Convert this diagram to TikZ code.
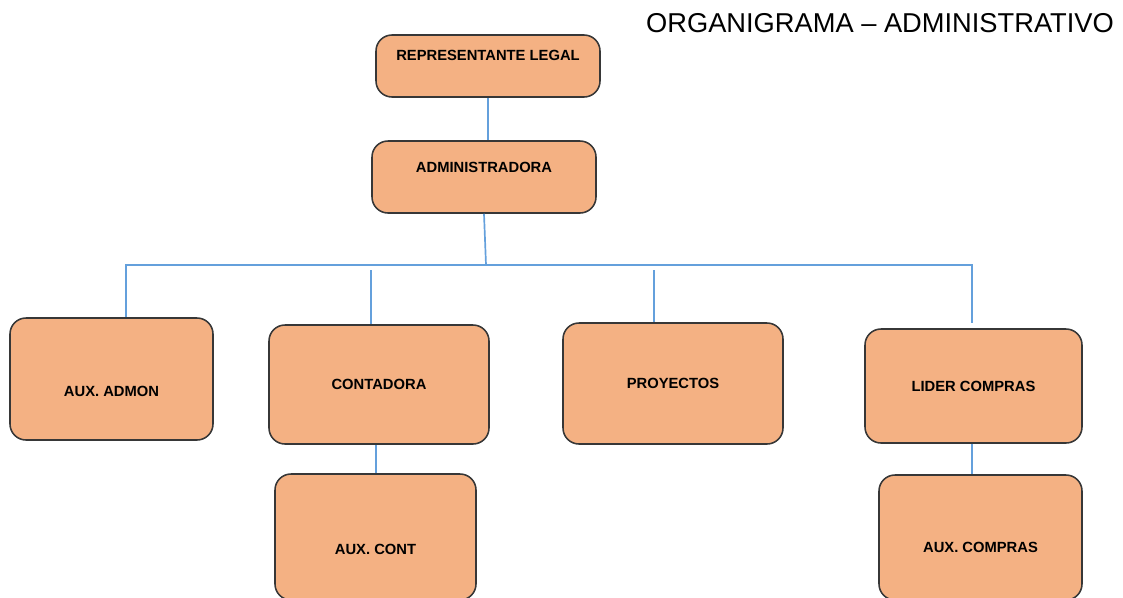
\documentclass[tikz,border=0pt]{standalone}
\usepackage{fontspec}
\setmainfont{Liberation Sans}
\usetikzlibrary{calc}

\definecolor{boxfill}{RGB}{244,177,131}
\definecolor{boxline}{RGB}{55,55,55}
\definecolor{linkblue}{RGB}{100,160,220}

\begin{document}
\begin{tikzpicture}[
    box/.style={rectangle, draw=boxline, line width=1.1pt, fill=boxfill, rounded corners=0.4cm, text centered, font=\fontsize{10.5}{12}\selectfont\bfseries, text height=7.5pt, text depth=0pt},
    line/.style={draw=linkblue, line width=1.2pt}
]

\useasboundingbox (0,0) rectangle (28.075,-14.95);

\node [font=\fontsize{19.4}{22}\selectfont] (title) at (22.0,-0.58) {ORGANIGRAMA -- ADMINISTRATIVO};

\node [box, minimum width=5.6cm, minimum height=1.55cm, text depth=15.6pt] (legal) at (12.2,-1.65) {REPRESENTANTE LEGAL};
\node [box, minimum width=5.6cm, minimum height=1.8cm, text depth=14.2pt] (admin) at (12.1,-4.425) {ADMINISTRADORA};

\node [box, minimum width=5.075cm, minimum height=3.05cm, text height=24.5pt] (auxadmon) at (2.7875,-9.475) {AUX. ADMON};
\node [box, minimum width=5.5cm, minimum height=2.975cm] (contadora) at (9.475,-9.6125) {CONTADORA};
\node [box, minimum width=5.5cm, minimum height=3.025cm] (proyectos) at (16.825,-9.5875) {PROYECTOS};
\node [box, minimum width=5.425cm, minimum height=2.85cm] (lider) at (24.3375,-9.65) {LIDER COMPRAS};

\node [box, minimum width=5.025cm, minimum height=3.15cm, text height=24.5pt] (auxcont) at (9.3875,-13.425) {AUX. CONT};
\node [box, minimum width=5.075cm, minimum height=3.125cm, text height=21.1pt] (auxcompras) at (24.5125,-13.4375) {AUX. COMPRAS};

\coordinate (bus) at (12.15,-6.625);
\coordinate (busleft) at (3.15,-6.625);
\coordinate (busright) at (24.3,-6.625);
\coordinate (dropcont) at (9.275,-6.75);
\coordinate (dropproy) at (16.35,-6.75);
\coordinate (auxline) at (9.4,-11);

\path [line] (legal.south) -- (legal.south |- admin.north);
\path [line] (admin.south) -- (bus);
\path [line] (busleft |- auxadmon.north) -- (busleft) -- (busright) -- ($(busright |- lider.north)+(0,0.12)$);
\path [line] (dropcont) -- (dropcont |- contadora.north);
\path [line] (dropproy) -- (dropproy |- proyectos.north);
\path [line] (auxline |- contadora.south) -- (auxline |- auxcont.north);
\path [line] (busright |- lider.south) -- (busright |- auxcompras.north);

\end{tikzpicture}
\end{document}
